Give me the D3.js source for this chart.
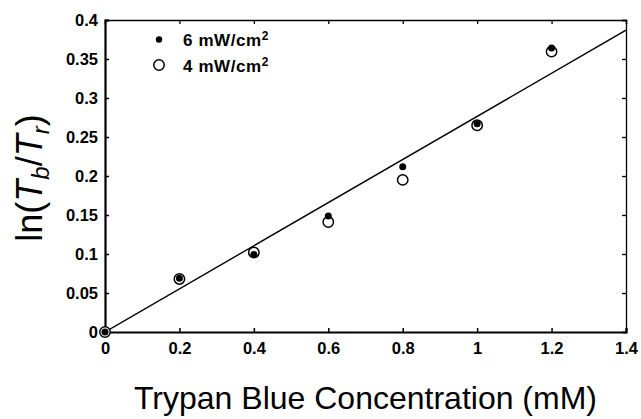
<!DOCTYPE html>
<html><head><meta charset="utf-8">
<script src="https://cdn.jsdelivr.net/npm/d3@7"></script>
<style>body{margin:0;background:#fff}svg{display:block}</style>
</head><body>
<svg id="c" width="641" height="419"></svg>
<script>
const concentrations = [0, 0.2, 0.4, 0.6, 0.8, 1.0, 1.2];
const series6 = [0, 0.069, 0.0995, 0.1487, 0.212, 0.267, 0.364];
const series4 = [0, 0.068, 0.102, 0.141, 0.195, 0.265, 0.3595];
const fitLine = [[0, 0], [1.4, 0.387]];
const xTicks = [0, 0.2, 0.4, 0.6, 0.8, 1, 1.2, 1.4];
const yTicks = [0, 0.05, 0.1, 0.15, 0.2, 0.25, 0.3, 0.35, 0.4];
const legendLabels = ["6 mW/cm", "4 mW/cm"];

const svg = d3.select("#c");
const L = 105, R = 626, T = 20, B = 332;
const x = d3.scaleLinear().domain([0, 1.4]).range([L, R]);
const y = d3.scaleLinear().domain([0, 0.4]).range([B, T]);
const font = "Liberation Sans, Arial, Helvetica, sans-serif";

svg.append("clipPath").attr("id", "clip").append("rect")
  .attr("x", L).attr("y", T).attr("width", R - L).attr("height", B - T);

const topAx = svg.append("g").attr("transform", `translate(0,${T})`)
  .call(d3.axisTop(x).tickValues(xTicks).tickSize(-4).tickFormat(""));
const rightAx = svg.append("g").attr("transform", `translate(${R},0)`)
  .call(d3.axisRight(y).tickValues(yTicks).tickSize(-4).tickFormat(""));
[topAx, rightAx].forEach(g => {
  g.select(".domain").attr("stroke", "#000").attr("stroke-width", 1.3);
  g.selectAll(".tick line").attr("stroke", "#000").attr("stroke-width", 1.3);
});

const xAx = svg.append("g").attr("transform", `translate(0,${B})`)
  .call(d3.axisBottom(x).tickValues(xTicks).tickSize(-4).tickPadding(10)
    .tickFormat(d => d3.format("~g")(d)));
const yAx = svg.append("g").attr("transform", `translate(${L},0)`)
  .call(d3.axisLeft(y).tickValues(yTicks).tickSize(-4).tickPadding(7)
    .tickFormat(d => d3.format("~g")(d)));
[xAx, yAx].forEach(g => {
  g.select(".domain").attr("stroke", "#000").attr("stroke-width", 2.2);
  g.selectAll(".tick line").attr("stroke", "#000").attr("stroke-width", 1.5);
  g.selectAll(".tick text").attr("font-family", font).attr("font-size", 16.5)
    .attr("font-weight", "bold").attr("fill", "#000");
});

svg.append("path").datum(fitLine)
  .attr("clip-path", "url(#clip)")
  .attr("d", d3.line().x(d => x(d[0])).y(d => y(d[1])))
  .attr("fill", "none").attr("stroke", "#000").attr("stroke-width", 1.4);

svg.append("g").selectAll("circle").data(concentrations).join("circle")
  .attr("cx", d => x(d)).attr("cy", (d, i) => y(series4[i])).attr("r", 5.2)
  .attr("fill", "#fff").attr("stroke", "#000").attr("stroke-width", 1.5);
svg.append("g").selectAll("circle").data(concentrations).join("circle")
  .attr("cx", d => x(d)).attr("cy", (d, i) => y(series6[i])).attr("r", 3.5)
  .attr("fill", "#000");

const lg = svg.append("g");
lg.append("circle").attr("cx", 159).attr("cy", 39.5).attr("r", 3.2).attr("fill", "#000");
lg.append("circle").attr("cx", 159).attr("cy", 65).attr("r", 5.2)
  .attr("fill", "#fff").attr("stroke", "#000").attr("stroke-width", 1.5);
legendLabels.forEach((t, i) => {
  const tx = lg.append("text").attr("x", 183).attr("y", 46 + i * 26)
    .attr("font-family", font).attr("font-size", 17).attr("font-weight", "bold")
    .attr("letter-spacing", 0.6);
  tx.append("tspan").text(t);
  tx.append("tspan").attr("font-size", 12).attr("dy", -6).text("2");
});

svg.append("text").attr("x", (L + R) / 2).attr("y", 409)
  .attr("text-anchor", "middle").attr("font-family", font).attr("font-size", 32)
  .text("Trypan Blue Concentration (mM)");

const yl = svg.append("text").attr("transform", "translate(42,178) rotate(-90)")
  .attr("text-anchor", "middle").attr("font-family", font).attr("font-size", 36);
yl.append("tspan").text("ln(");
yl.append("tspan").attr("font-style", "italic").text("T");
yl.append("tspan").attr("font-style", "italic").attr("font-size", 24).attr("dy", 7).text("b");
yl.append("tspan").attr("dy", -7).text("/");
yl.append("tspan").attr("font-style", "italic").text("T");
yl.append("tspan").attr("font-style", "italic").attr("font-size", 24).attr("dy", 7).text("r");
yl.append("tspan").attr("dy", -7).text(")");
</script>
</body></html>
